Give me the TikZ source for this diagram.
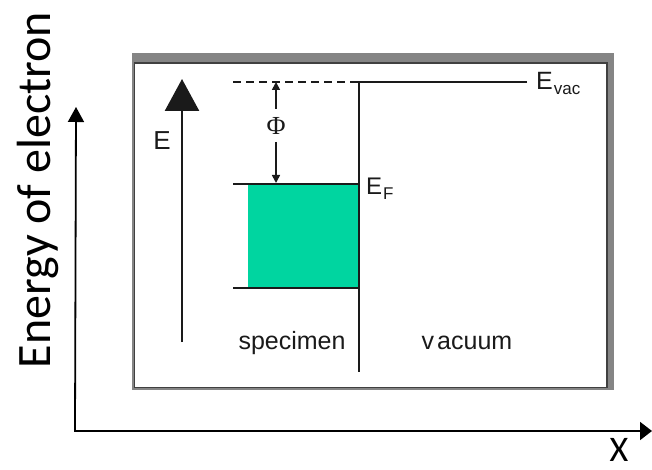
\documentclass[tikz,border=0pt]{standalone}
\usepackage{fontspec}
\setmainfont{Liberation Sans}
\newfontfamily\calibri{Carlito}
\newfontfamily\serifgreek{Liberation Serif}
\usetikzlibrary{arrows.meta}
\definecolor{bandgreen}{HTML}{00D5A0}
\definecolor{framegray}{HTML}{858585}
\definecolor{ink}{HTML}{1A1A1A}
\begin{document}
\begin{tikzpicture}[x=1pt,y=-1pt,
  axisline/.style={line width=1.8pt, draw=black},
  heavy/.style={line width=2.6pt, draw=ink},
  thinlvl/.style={line width=1.6pt, draw=ink},
  phiarrow/.style={line width=1.6pt, draw=ink, -{Triangle[length=8pt,width=8pt]}},
  outerlabel/.style={font=\calibri\fontsize{48}{56}\selectfont, inner sep=0pt, text=black},
  innerlabel/.style={font=\fontsize{25}{30}\selectfont, inner sep=0pt, text=ink},
]
\useasboundingbox (0,0) rectangle (652,470);
% outer axes
\coordinate (origin) at (76,431);
\coordinate (ytip) at (76,107);
\coordinate (xtip) at (652,431);
\draw[axisline, -{Triangle[length=15pt,width=16pt]}] ([xshift=-1pt]origin) -- (ytip);
\draw[axisline, -{Triangle[length=12pt,width=18pt]}] ([xshift=-2pt]origin) -- (xtip);
\node[outerlabel, rotate=90, anchor=base] (ylab) at (50,190) {Energy of electron};
\node[outerlabel, font=\calibri\fontsize{36}{42}\selectfont, anchor=base] (xlab) at (619,461) {X};
% frame
\fill[framegray] (132,53) rectangle (614,390);
\draw[draw=black!75, line width=1.6pt, fill=white] (134.5,63) rectangle (607,387.5);
% E arrow
\coordinate (ebot) at (182,342);
\coordinate (etip) at (182,79);
\draw[heavy, -{Triangle[length=32pt,width=34pt]}] (ebot) -- (etip);
\node[innerlabel, font=\fontsize{26}{30}\selectfont, anchor=base] (elab) at (162,150) {E};
% levels
\coordinate (dashL) at (233,82);
\coordinate (corner) at (359,82);
\coordinate (vacR) at (527,82);
\coordinate (wallbot) at (359,372);
\coordinate (efL) at (233,184);
\coordinate (ef) at (359,184);
\coordinate (botL) at (233,288);
\coordinate (bot) at (359,288);
\fill[bandgreen] (248,184) rectangle (bot);
\draw[thinlvl, dash pattern=on 8pt off 5pt] (dashL) -- (corner);
\draw[heavy] (vacR) -- (corner) -- (wallbot);
\draw[thinlvl] (efL) -- (ef);
\draw[thinlvl] (botL) -- (bot);
% work function
\coordinate (phitop) at (276,82);
\coordinate (phiup) at (276,109);
\coordinate (phidn) at (276,142);
\coordinate (phibot) at (276,183);
\draw[phiarrow] (phiup) -- (phitop);
\draw[phiarrow] (phidn) -- (phibot);
\node[innerlabel, font=\serifgreek\fontsize{26}{30}\selectfont, anchor=base] (philab) at (276,135) {Φ};
% labels
\node[innerlabel, anchor=base west] (evac) at (536,90) {E\kern1pt\raisebox{-5pt}{\fontsize{17}{20}\selectfont vac}};
\node[innerlabel, font=\fontsize{24}{28}\selectfont, anchor=base west] (eflab) at (366,195) {E\kern1pt\raisebox{-5pt}{\fontsize{17}{20}\selectfont F}};
\node[innerlabel, anchor=base] (spec) at (292,349) {specimen};
\node[innerlabel, anchor=base] (vac) at (467,349) {v\kern3pt acuum};
\end{tikzpicture}
\end{document}
